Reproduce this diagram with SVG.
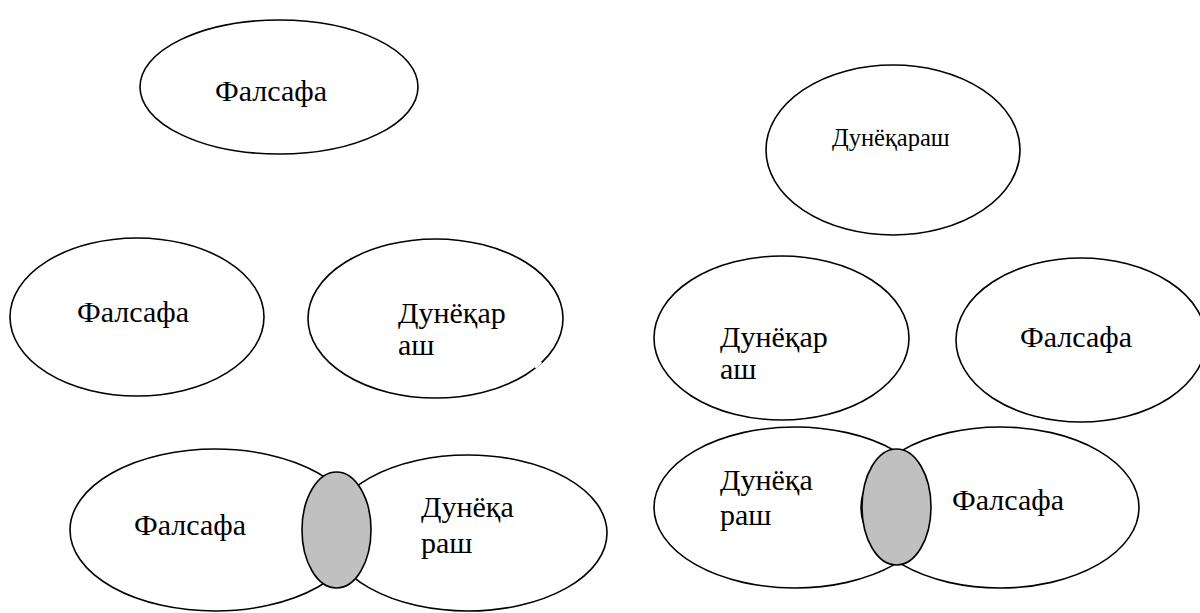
<svg xmlns="http://www.w3.org/2000/svg" width="1200" height="613" viewBox="0 0 1200 613">
<style>
.e{fill:#fff;stroke:#000;stroke-width:1.6}
.g{fill:#c0c0c0;stroke:#000;stroke-width:1.6}
text{font-family:'Liberation Serif','Times New Roman',serif;font-size:30px;fill:#000}
text.s{font-size:24.5px}
</style>
<rect width="1200" height="613" fill="#fff"/>
<g id="n1"><ellipse class="e" cx="279" cy="87" rx="139" ry="67"/><text x="215" y="101">Фалсафа</text></g>
<g id="n2"><ellipse class="e" cx="893" cy="150" rx="127" ry="85"/><text class="s" x="832" y="146">Дунёқараш</text></g>
<g id="n3"><ellipse class="e" cx="137" cy="317" rx="127" ry="79"/><text x="77" y="322">Фалсафа</text></g>
<g id="n4"><ellipse class="e" cx="435.5" cy="318.5" rx="127.5" ry="79.5"/><line x1="535" y1="367.5" x2="541" y2="362" stroke="#fff" stroke-width="3"/><text x="398" y="323">Дунёқар</text><text x="398" y="355">аш</text></g>
<g id="n5"><ellipse class="e" cx="781.5" cy="338" rx="127.5" ry="82"/><text x="720" y="347">Дунёқар</text><text x="720" y="379">аш</text></g>
<g id="n6"><ellipse class="e" cx="1081" cy="340" rx="125" ry="82"/><text x="1020" y="347">Фалсафа</text></g>
<g id="n7">
<ellipse class="e" cx="215" cy="530" rx="145" ry="81"/>
<ellipse class="e" cx="468" cy="533" rx="139" ry="78"/>
<ellipse class="g" cx="336.5" cy="530" rx="34.5" ry="58"/>
<text x="134" y="535">Фалсафа</text>
<text x="421" y="517">Дунёқа</text><text x="421" y="553">раш</text>
</g>
<g id="n8">
<ellipse class="e" cx="795" cy="507.5" rx="141" ry="80.5"/>
<ellipse class="e" cx="1000" cy="507.5" rx="139" ry="80.5"/>
<ellipse class="g" cx="896.5" cy="507" rx="34.5" ry="58"/>
<text x="720" y="490">Дунёқа</text><text x="720" y="525">раш</text>
<text x="952" y="510">Фалсафа</text>
</g>
<g id="connectors"/>
</svg>
